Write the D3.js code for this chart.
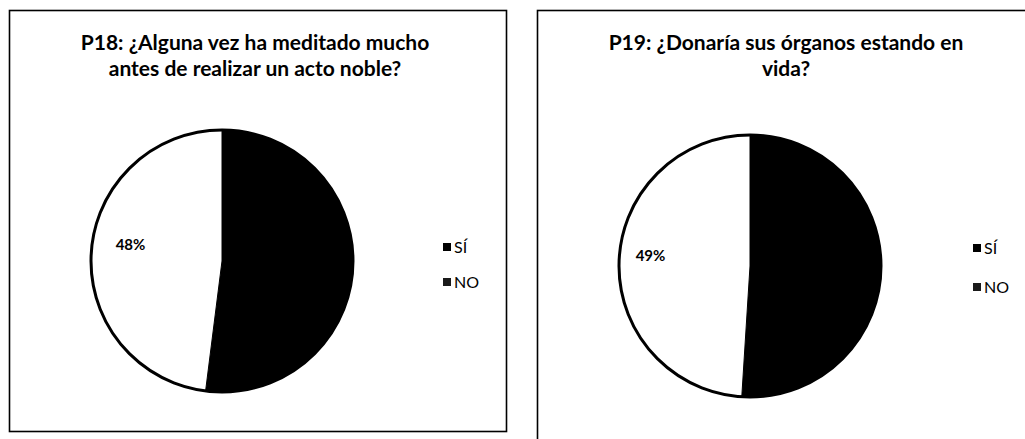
<!DOCTYPE html>
<html><head><meta charset="utf-8">
<script src="https://cdn.jsdelivr.net/npm/d3@7"></script>
<style>body{margin:0;background:#fff}svg{display:block}</style>
</head><body>
<script>
const categories = ["SÍ", "NO"];
const p18Values = [52, 48];
const p19Values = [51, 49];
const p18Title = ["P18: ¿Alguna vez ha meditado mucho", "antes de realizar un acto noble?"];
const p19Title = ["P19: ¿Donaría sus órganos estando en", "vida?"];
const sliceColors = ["#000000", "#ffffff"];
const legendColors = ["#000000", "#1a1a1a"];

const W = 1025, H = 439;
const svg = d3.select("body").append("svg").attr("width", W).attr("height", H);

const panels = [
  {values: p18Values, title: p18Title, box: [9.5, 10.5, 497, 421], titleX: 255, cx: 222, cy: 261, r: 131, legX: 447, legY: [247, 282], lblR: 0.7, lblDy: -10},
  {values: p19Values, title: p19Title, box: [537.5, 10.5, 520, 440], titleX: 786, cx: 750, cy: 266, r: 131, legX: 977, legY: [248, 287], lblR: 0.76, lblDy: -7}
];

const pie = d3.pie().sort(null).value(d => d);
const color = d3.scaleOrdinal().domain(categories).range(sliceColors);
const legColor = d3.scaleOrdinal().domain(categories).range(legendColors);

panels.forEach(p => {
  svg.append("rect").attr("x", p.box[0]).attr("y", p.box[1]).attr("width", p.box[2]).attr("height", p.box[3])
    .attr("fill", "none").attr("stroke", "#000").attr("stroke-width", 1.6);

  const t = svg.append("text").attr("text-anchor", "middle")
    .attr("font-family", "Lato, 'Open Sans', sans-serif").attr("font-weight", "bold")
    .attr("font-size", 21).attr("fill", "#000");
  p.title.forEach((line, i) => t.append("tspan").attr("x", p.titleX).attr("y", 50 + i * 26).text(line));

  const g = svg.append("g").attr("transform", `translate(${p.cx},${p.cy})`);
  const arcs = pie(p.values);
  const arc = d3.arc().innerRadius(0).outerRadius(p.r);
  g.selectAll("path.slice").data(arcs).join("path").attr("class", "slice")
    .attr("d", arc).attr("fill", (d, i) => color(categories[i]))
    .attr("stroke", "#000").attr("stroke-width", 1);
  g.append("circle").attr("r", p.r).attr("fill", "none").attr("stroke", "#000").attr("stroke-width", 3);

  const labelArc = d3.arc().innerRadius(p.r * p.lblR).outerRadius(p.r * p.lblR);
  g.selectAll("text.lbl").data(arcs.filter((d, i) => i === 1)).join("text").attr("class", "lbl")
    .attr("transform", d => { const c = labelArc.centroid(d); return `translate(${c[0]},${c[1] + p.lblDy})`; })
    .attr("text-anchor", "middle").attr("dy", "0.35em")
    .attr("font-family", "Lato, sans-serif").attr("font-weight", "bold").attr("font-size", 15)
    .text(d => d.data + "%");

  categories.forEach((c, i) => {
    svg.append("rect").attr("x", p.legX - 4).attr("y", p.legY[i] - 4).attr("width", 8).attr("height", 8)
      .attr("fill", legColor(c));
    svg.append("text").attr("x", p.legX + 7).attr("y", p.legY[i]).attr("dy", "0.35em")
      .attr("font-family", "Lato, sans-serif").attr("font-size", 16).attr("fill", "#000").text(c);
  });
});
</script>
</body></html>
